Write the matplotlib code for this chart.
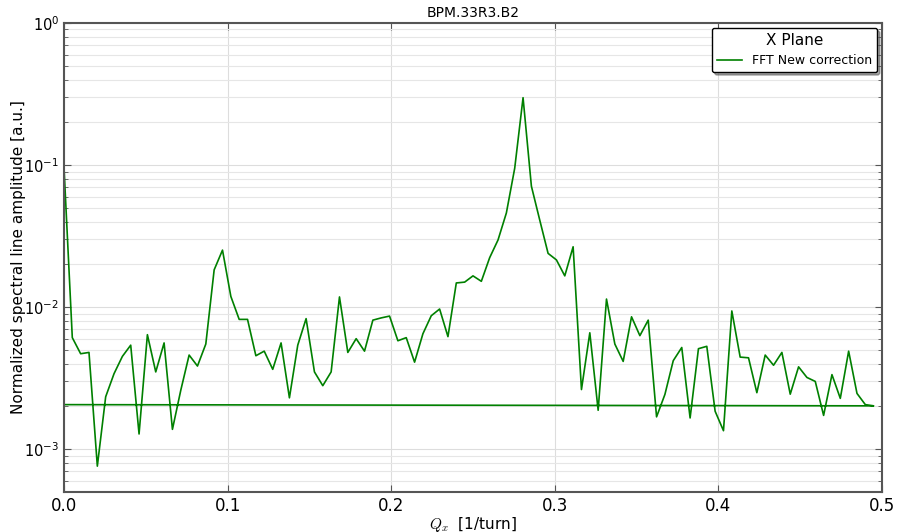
import numpy as np
import matplotlib.pyplot as plt
from matplotlib.ticker import LogLocator, FixedLocator

# tune axis of the FFT bins [1/turn]
tune = [
    0.0000, 0.0051, 0.0102, 0.0153, 0.0204, 0.0255, 0.0306, 0.0357, 0.0408, 0.0459,
    0.0510, 0.0561, 0.0612, 0.0663, 0.0714, 0.0765, 0.0816, 0.0867, 0.0918, 0.0969,
    0.1020, 0.1071, 0.1122, 0.1173, 0.1224, 0.1276, 0.1327, 0.1378, 0.1429, 0.1480,
    0.1531, 0.1582, 0.1633, 0.1684, 0.1735, 0.1786, 0.1837, 0.1888, 0.1939, 0.1990,
    0.2041, 0.2092, 0.2143, 0.2194, 0.2245, 0.2296, 0.2347, 0.2398, 0.2449, 0.2500,
    0.2551, 0.2602, 0.2653, 0.2704, 0.2755, 0.2806, 0.2857, 0.2908, 0.2959, 0.3010,
    0.3061, 0.3112, 0.3163, 0.3214, 0.3265, 0.3316, 0.3367, 0.3418, 0.3469, 0.3520,
    0.3571, 0.3622, 0.3673, 0.3724, 0.3776, 0.3827, 0.3878, 0.3929, 0.3980, 0.4031,
    0.4082, 0.4133, 0.4184, 0.4235, 0.4286, 0.4337, 0.4388, 0.4439, 0.4490, 0.4541,
    0.4592, 0.4643, 0.4694, 0.4745, 0.4796, 0.4847, 0.4898, 0.4949,
    0.0000,
]

# normalized amplitude [a.u.]
amplitude = [
    9.8e-2, 6.1e-3, 4.7e-3, 4.8e-3, 7.6e-4, 2.34e-3, 3.4e-3, 4.5e-3, 5.4e-3, 1.28e-3,
    6.4e-3, 3.5e-3, 5.6e-3, 1.38e-3, 2.6e-3, 4.6e-3, 3.85e-3, 5.5e-3, 1.83e-2, 2.52e-2,
    1.19e-2, 8.2e-3, 8.2e-3, 4.55e-3, 4.9e-3, 3.65e-3, 5.6e-3, 2.3e-3, 5.4e-3, 8.3e-3,
    3.5e-3, 2.8e-3, 3.5e-3, 1.18e-2, 4.8e-3, 6.0e-3, 4.9e-3, 8.1e-3, 8.4e-3, 8.65e-3,
    5.8e-3, 6.1e-3, 4.1e-3, 6.5e-3, 8.7e-3, 9.7e-3, 6.2e-3, 1.48e-2, 1.50e-2, 1.66e-2,
    1.52e-2, 2.23e-2, 2.97e-2, 4.6e-2, 9.5e-2, 2.98e-1, 7.1e-2, 4.1e-2, 2.39e-2, 2.15e-2,
    1.66e-2, 2.66e-2, 2.63e-3, 6.6e-3, 1.88e-3, 1.14e-2, 5.5e-3, 4.15e-3, 8.55e-3, 6.3e-3,
    8.1e-3, 1.69e-3, 2.43e-3, 4.2e-3, 5.2e-3, 1.66e-3, 5.1e-3, 5.3e-3, 1.85e-3, 1.35e-3,
    9.4e-3, 4.45e-3, 4.4e-3, 2.5e-3, 4.6e-3, 3.9e-3, 4.8e-3, 2.44e-3, 3.8e-3, 3.2e-3,
    3.0e-3, 1.73e-3, 3.35e-3, 2.28e-3, 4.9e-3, 2.47e-3, 2.06e-3, 2.02e-3,
    2.06e-3,
]

fig = plt.figure(figsize=(8.97, 5.32), dpi=100)
ax = fig.add_axes([0.0713, 0.0752, 0.912, 0.8816])

ax.plot(tune, amplitude, '-', color='green', linewidth=1.2, label='FFT New correction')

ax.set_yscale('log')
ax.set_xlim(0, 0.5)
ax.set_ylim(5e-4, 1)
ax.xaxis.set_major_locator(FixedLocator([0.0, 0.1, 0.2, 0.3, 0.4, 0.5]))
ax.xaxis.set_major_formatter(plt.FuncFormatter(lambda v, p: '%.1f' % v))
ax.yaxis.set_major_locator(LogLocator(base=10, numticks=10))
ax.yaxis.set_minor_locator(LogLocator(base=10, subs=np.arange(2, 10), numticks=20))

ax.grid(True, which='major', color='#dddddd', linewidth=0.8)
ax.grid(True, which='minor', axis='y', color='#e6e6e6', linewidth=0.8)
ax.set_axisbelow(True)

ax.tick_params(which='both', direction='in', top=True, right=True, colors='#555555', labelcolor='black')
ax.tick_params(axis='x', labelsize=12)
ax.tick_params(axis='y', labelsize=10.5)
ax.tick_params(which='major', length=5)
ax.tick_params(which='minor', length=3)
for s in ax.spines.values():
    s.set_color('#555555')
    s.set_linewidth(1.5)

ax.set_title('BPM.33R3.B2', fontsize=10, pad=4)
xl = ax.set_xlabel('$Q_x$  [1/turn]', fontsize=11, labelpad=0)
xl.set_math_fontfamily('cm')
ax.set_ylabel('Normalized spectral line amplitude [a.u.]', fontsize=11, labelpad=-1)

leg = ax.legend(title='X Plane', loc='upper right', fontsize=9, title_fontsize=11,
                fancybox=True, shadow=True, framealpha=1, edgecolor='black',
                borderaxespad=0.4)
leg.get_frame().set_linewidth(1.0)

fig.savefig('out.png', dpi=100)
